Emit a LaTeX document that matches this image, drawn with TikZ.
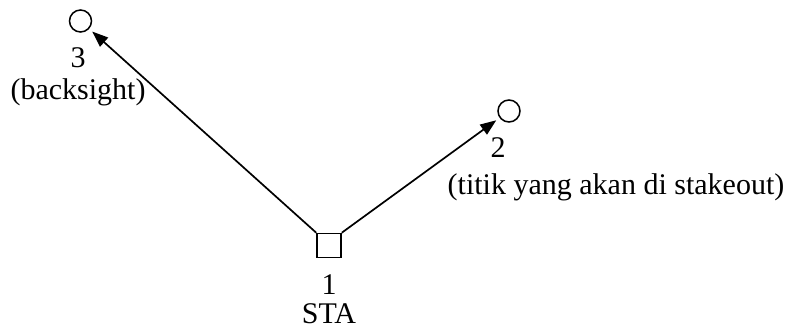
\documentclass[tikz,border=0pt]{standalone}
\usepackage{fontspec}
\setmainfont{Liberation Serif}
\usetikzlibrary{arrows.meta}
\begin{document}
\begin{tikzpicture}[x=1pt,y=-1pt,
  pt/.style={draw,circle,minimum size=22pt,inner sep=0pt,line width=1.5pt},
  sta/.style={draw,rectangle,minimum size=24pt,inner sep=0pt,line width=1.5pt},
  lbl/.style={anchor=base,inner sep=0pt,font=\fontsize{30}{33}\selectfont},
  conn/.style={line width=1.7pt,-{Triangle[length=16pt,width=12pt]},shorten >=4pt}]
\useasboundingbox (0,0) rectangle (788,331);
\node[sta] (s1) at (329,245.5) {};
\node[pt] (p3) at (80.5,21) {};
\node[pt] (p2) at (509,111) {};
\node[lbl] (l3) at (78,68) {3};
\node[lbl] (l3b) at (78,100) {(backsight)};
\node[lbl] (l2) at (498,158) {2};
\node[lbl] (l2b) at (616,195) {(titik yang akan di stakeout)};
\node[lbl] (l1) at (329,295) {1};
\node[lbl] (l1b) at (329,324) {STA};
\draw[conn] (s1.north west) -- (p3);
\draw[conn] (s1.north east) -- (p2);
\end{tikzpicture}
\end{document}
